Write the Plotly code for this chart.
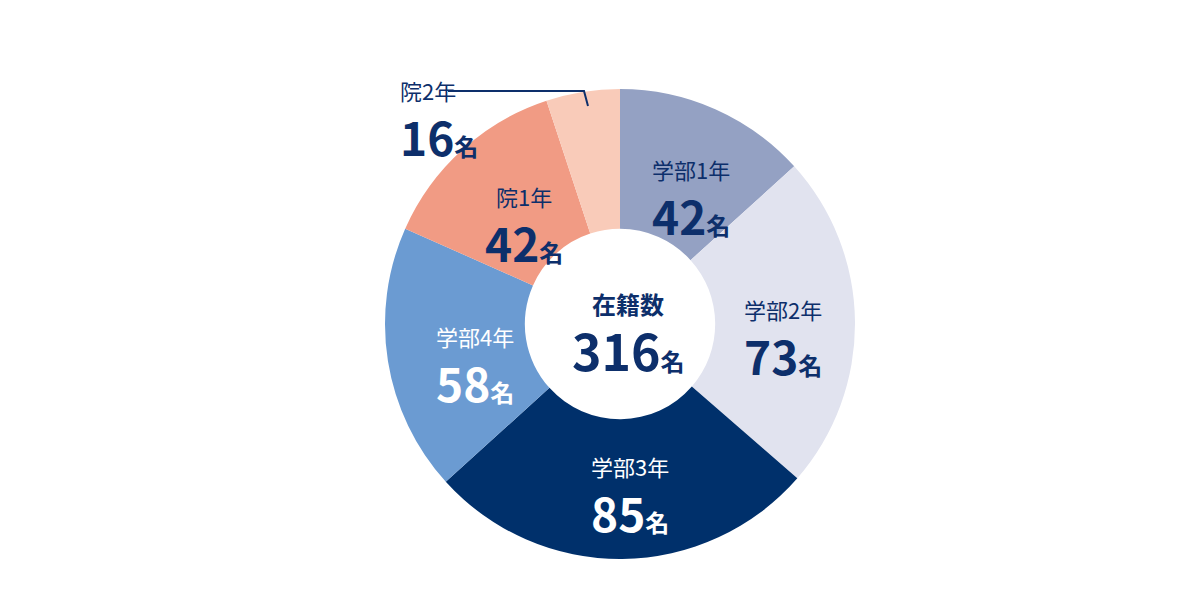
import math
import plotly.graph_objects as go

labels = ["学部1年", "学部2年", "学部3年", "学部4年", "院1年", "院2年"]
values = [42, 73, 85, 58, 42, 16]
colors = ["#94a1c3", "#e1e3ef", "#00306b", "#6b9bd2", "#f19b84", "#f9cbb9"]
text_colors = ["#0d2f6b", "#0d2f6b", "#ffffff", "#ffffff", "#0d2f6b", "#0d2f6b"]
total_label = "在籍数"

W, H = 1200, 600
cx, cy, R = 620, 323, 235
dx_fix, dy_fix = -8, -7
FONT = "Noto Sans CJK JP"

fig = go.Figure(go.Pie(
    labels=labels, values=values, sort=False, direction="clockwise", rotation=0,
    hole=0.405, marker=dict(colors=colors, line=dict(width=0)),
    textinfo="none", hoverinfo="label+value", showlegend=False,
    domain=dict(x=[(cx - R + dx_fix) / W, (cx + R + dx_fix) / W],
                y=[1 - (cy + R + dy_fix) / H, 1 - (cy - R + dy_fix) / H]),
))

ann = []
def add(x, y, lbl, val, col, lsize=22, nsize=46, bold_label=False):
    lt = f"<b>{lbl}</b>" if bold_label else lbl
    ann.append(dict(x=x / W, y=1 - y / H, xref="paper", yref="paper", showarrow=False,
                    text=lt, font=dict(family=FONT, color=col, size=lsize), yanchor="middle"))
    ann.append(dict(x=x / W, y=1 - (y + 46) / H, xref="paper", yref="paper", showarrow=False,
                    text=f"<b>{val}</b><span style='font-size:24px'><b>名</b></span>",
                    font=dict(family=FONT, color=col, size=nsize), yanchor="middle"))

total = sum(values)
cum = 0
for i, (l, v) in enumerate(zip(labels, values)):
    mid = (cum + v / 2) / total * 2 * math.pi
    cum += v
    if i == len(values) - 1:
        x, y = 390, 82
    else:
        r = 155
        x = cx + r * math.sin(mid)
        y = cy - r * math.cos(mid) - 20
    add(x, y, l, v, text_colors[i])
add(cx, cy - 28, total_label, total, "#0d2f6b", lsize=24, nsize=50, bold_label=True)

shapes = [dict(type="path", xref="paper", yref="paper",
               path=f"M {440/W} {1-83/H} L {576/W} {1-83/H} L {580/W} {1-98/H}",
               line=dict(color="#0d2f6b", width=2))]

fig.update_layout(width=W, height=H, margin=dict(l=0, r=0, t=0, b=0),
                  paper_bgcolor="white", plot_bgcolor="white",
                  annotations=ann, shapes=shapes, font=dict(family=FONT))
fig.write_html("out.html")
